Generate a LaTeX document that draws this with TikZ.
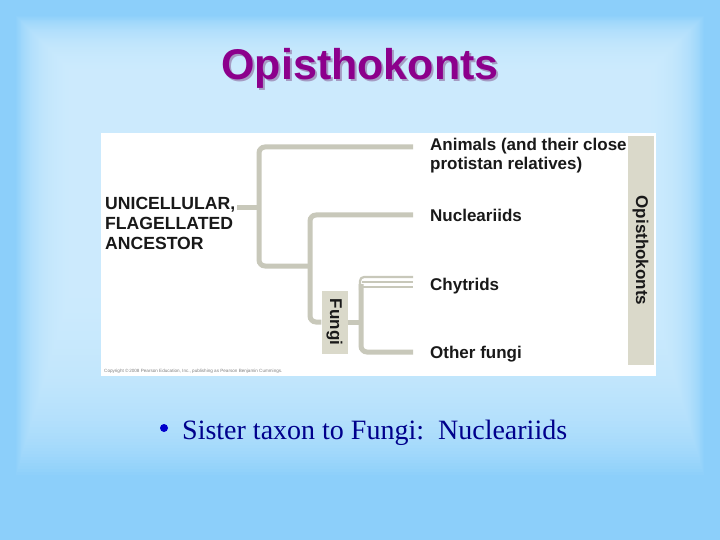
\documentclass[tikz,border=0pt]{standalone}
\usepackage{fontspec}
\setmainfont{Liberation Serif}
\setsansfont{Liberation Sans}
\usetikzlibrary{calc}

\definecolor{bgedge}{RGB}{140,207,250}
\definecolor{bglight}{RGB}{208,236,253}
\definecolor{branchgray}{RGB}{200,200,186}
\definecolor{bargray}{RGB}{218,217,202}
\definecolor{titlepurple}{RGB}{140,0,140}
\definecolor{shadowgray}{RGB}{165,155,195}
\definecolor{pointblue}{RGB}{0,0,140}

\begin{document}
\begin{tikzpicture}[
    x=1pt, y=-1pt, % 像素坐标, y 向下
    branch/.style={draw=branchgray, line width=5pt, rounded corners=6pt},
    thinbranch/.style={draw=branchgray, line width=2.2pt},
    leaftext/.style={inner sep=0pt, text=black!90, align=left,
        font=\sffamily\bfseries\fontsize{17}{19.5}\selectfont},
    tagbox/.style={fill=bargray, rotate=-90, inner sep=0pt, text=black!90,
        font=\sffamily\bfseries\fontsize{17}{19}\selectfont}
]

% ========== 背景 ==========
\useasboundingbox (0,0) rectangle (720,540);
\fill[bgedge] (0,0) rectangle (720,540);
\foreach \i [evaluate=\i as \p using 100*(1-0.955^(\i+1))] in {0,...,59} {
    \fill[bglight!\p!bgedge] (16+0.9*\i,16+0.9*\i) rectangle (704-0.9*\i,475-3*\i); % 渐变
}

% ========== 标题 ==========
\node[font=\sffamily\bfseries\fontsize{43}{50}\selectfont, text=shadowgray] (titleshadow) at (362,70) {Opisthokonts};
\node[font=\sffamily\bfseries\fontsize{43}{50}\selectfont, text=titlepurple] (title) at (360,68) {Opisthokonts};

% ========== 图片区 ==========
\fill[white] (101,133) rectangle (656,376);

% 右侧竖条与 Fungi 标签
\node[tagbox, minimum width=228pt, minimum height=26pt] (opis) at (640.5,250.5) {Opisthokonts};
\node[tagbox, minimum width=63pt, minimum height=26pt] (fungi) at (334.5,322) {Fungi};

% 文字
\node[leaftext, anchor=west, font=\sffamily\bfseries\fontsize{17.6}{19.8}\selectfont] (ancestor) at (105,223.5) {UNICELLULAR,\\FLAGELLATED\\ANCESTOR};
\node[leaftext, anchor=west] (animals) at (430,155.5) {Animals (and their close\\protistan relatives)};
\node[leaftext, anchor=base west] (nuclear) at (430,222) {Nucleariids};
\node[leaftext, anchor=base west] (chytrid) at (430,290) {Chytrids};
\node[leaftext, anchor=base west] (other) at (430,358) {Other fungi};

% 树枝端点
\coordinate (root) at (237,208);
\coordinate (animalsend) at (413,147);
\coordinate (nuclearend) at (413,215);
\coordinate (chytridend) at (413,277);
\coordinate (otherend) at (413,352);

% 树枝
\draw[branch] (root) -- (259,208);
\draw[branch] (animalsend) -- (259,147) -- (259,266) -- (310,266);
\draw[branch] (nuclearend) -- (310,215) -- (310,322) -- (fungi.south);
\draw[branch] (fungi.north) -- (361,322);
\draw[branch] (otherend) -- (361,352) -- (361,284);
\draw[thinbranch, rounded corners=4pt] (chytridend) -- (360,277) -- (360,290);
\foreach \y in {282,287} {
    \draw[thinbranch] (362,\y) -- (413,\y); % Chytrids 多条线
}

\node[anchor=base west, inner sep=0pt, text=gray, font=\sffamily\fontsize{4.6}{5}\selectfont] (copyright) at (104,372)
    {Copyright \textcopyright\,2008 Pearson Education, Inc., publishing as Pearson Benjamin Cummings.};

% ========== 下方要点 ==========
\node[circle, fill=blue!80!black, inner sep=0pt, minimum size=8pt] (dot) at (164,428) {};
\node[anchor=base west, inner sep=0pt, text=pointblue, font=\fontsize{28}{32}\selectfont] (point) at (182,439)
    {Sister taxon to Fungi:\ \ Nucleariids};

\end{tikzpicture}
\end{document}
